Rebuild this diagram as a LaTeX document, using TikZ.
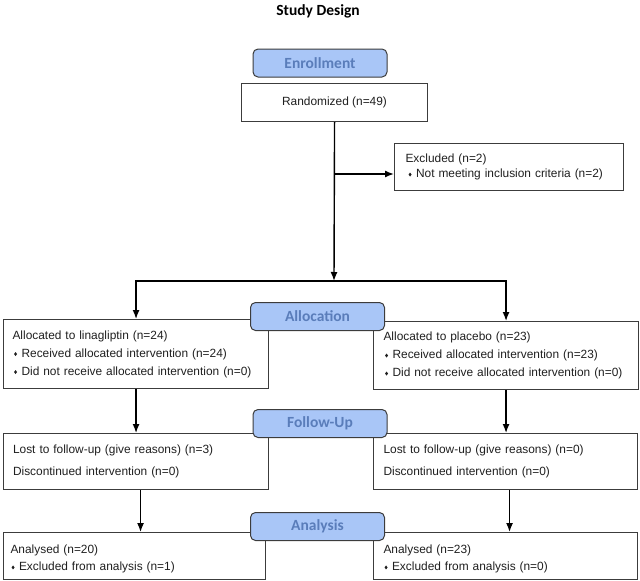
\documentclass[tikz,border=0pt]{standalone}
\usepackage{fontspec}
\setmainfont{Liberation Sans}
\newfontfamily\phasefont{Carlito}
\usetikzlibrary{positioning,arrows.meta}
\tikzset{>={Latex[length=9pt,width=7pt]}}
\definecolor{phasefill}{HTML}{A9C6F7}
\definecolor{phasetext}{HTML}{5A7DBA}
\definecolor{boxline}{HTML}{3C3C3C}
\newcommand{\dia}{\tikz[baseline=0pt]\fill (0pt,3.1pt) -- (1.5pt,5.1pt) -- (3pt,3.1pt) -- (1.5pt,1.1pt) -- cycle;\hspace{4.5pt}}
\tikzset{
  phase/.style = {draw=boxline, fill=phasefill, rounded corners=5pt, line width=1pt,
    minimum width=134pt, minimum height=28pt, inner sep=0pt, text=phasetext,
    font=\phasefont\bfseries\fontsize{15.5}{18}\selectfont},
  infobox/.style = {draw=boxline, line width=1.1pt, anchor=north west, align=left,
    inner xsep=9pt, inner ysep=0pt, text=black!88},
  body/.style = {font=\fontsize{11.9}{#1}\selectfont},
  flow/.style = {->, line width=1.4pt}
}

\begin{document}
\begin{tikzpicture}[x=1pt,y=-1pt]
  \useasboundingbox (0,0) rectangle (640,581);
  \node[font=\phasefont\bfseries\fontsize{15.5}{18}\selectfont, anchor=base] (title) at (318,15) {Study Design};

  % boxes
  \node[infobox, align=center, minimum width=186pt, minimum height=38pt, body=15] (rand) at (241,83) {Randomized (n=49)};
  \node[infobox, inner xsep=11pt, text width=207pt, minimum height=47pt, body=15] (excl) at (394,143)
    {Excluded (n=2)\\\hspace*{3pt}\dia Not meeting inclusion criteria (n=2)};
  \node[infobox, text width=247pt, minimum height=69pt, body=18] (aloL) at (3,319)
    {Allocated to linagliptin (n=24)\\\hspace*{1.5pt}\dia Received allocated intervention (n=24)\\\hspace*{1.5pt}\dia Did not receive allocated intervention (n=0)};
  \node[infobox, inner xsep=10pt, text width=245pt, minimum height=68pt, body=18] (aloR) at (373,321)
    {Allocated to placebo (n=23)\\\hspace*{1.5pt}\dia Received allocated intervention (n=23)\\\hspace*{1.5pt}\dia Did not receive allocated intervention (n=0)};
  \node[infobox, inner xsep=9.5pt, text width=246pt, minimum height=56pt, body=22] (fuL) at (3,433)
    {Lost to follow-up (give reasons) (n=3)\\Discontinued intervention (n=0)};
  \node[infobox, inner xsep=10pt, text width=244pt, minimum height=56pt, body=22] (fuR) at (373,433)
    {Lost to follow-up (give reasons) (n=0)\\Discontinued intervention (n=0)};
  \node[infobox, inner xsep=7pt, text width=248pt, minimum height=47pt, body=17] (anL) at (3,532)
    {\rule{0pt}{14.5pt}Analysed (n=20)\\\hspace*{1pt}\dia Excluded from analysis (n=1)};
  \node[infobox, inner xsep=10pt, text width=244pt, minimum height=47pt, body=17] (anR) at (373,532)
    {\rule{0pt}{14.5pt}Analysed (n=23)\\\hspace*{1pt}\dia Excluded from analysis (n=0)};

  % phase labels
  \node[phase] (enrol) at (320,63) {Enrollment};
  \node[phase] (alloc) at (317.5,316.5) {Allocation};
  \node[phase] (follow) at (320,423.5) {Follow-Up};
  \node[phase] (analys) at (317.5,526.5) {Analysis};

  % arrows
  \coordinate (split) at (334,281);
  \coordinate (exbranch) at (334,174);
  \draw[flow] (rand.south) -- (split);
  \draw[flow] (exbranch) -- (exbranch -| excl.west);
  \draw[flow] (split) -| (aloL.north);
  \draw[flow] (split) -| (aloR.north);
  \draw[flow] (aloL.south) -- (aloL.south |- fuL.north);
  \draw[flow] (aloR.south) -- (aloR.south |- fuR.north);
  \draw[flow] ([xshift=4.5pt]fuL.south) -- ([xshift=4.5pt]fuL.south |- anL.north);
  \draw[flow] ([xshift=4pt]fuR.south) -- ([xshift=4pt]fuR.south |- anR.north);
\end{tikzpicture}
\end{document}
